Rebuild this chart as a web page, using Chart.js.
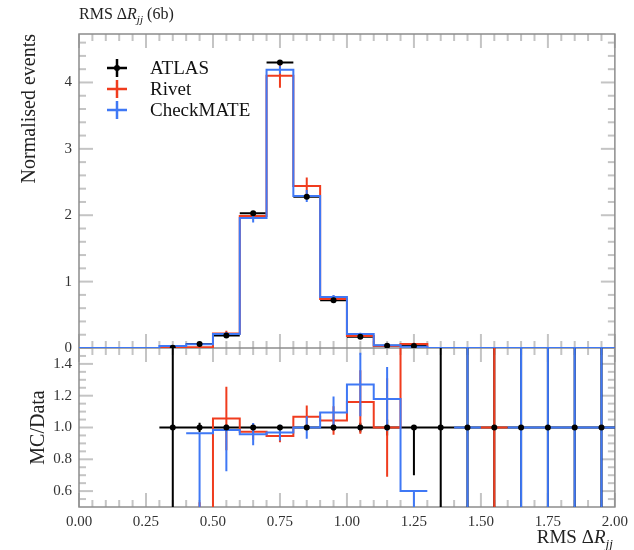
<!DOCTYPE html>
<html>
<head>
<meta charset="utf-8">
<script src="https://cdn.jsdelivr.net/npm/chart.js@4.4.1/dist/chart.umd.min.js"></script>
<style>
  html, body { margin: 0; padding: 0; background: #fff; }
</style>
</head>
<body>
<canvas id="chart" width="634" height="550"></canvas>
<script>
// histogram binning (RMS delta R_jj)
const binEdges = [0.0, 0.1, 0.2, 0.3, 0.4, 0.5, 0.6, 0.7, 0.8, 0.9, 1.0,
                  1.1, 1.2, 1.3, 1.4, 1.5, 1.6, 1.7, 1.8, 1.9, 2.0];

const seriesNames = ["ATLAS", "Rivet", "CheckMATE"];
const seriesColors = ["#000000", "#f03c1e", "#3f78f5"];

// upper panel: normalised events
const atlasVals = [null, null, null, 0.005, 0.06, 0.19, 2.03, 4.30, 2.28, 0.72, 0.17, 0.035, 0.03, 0, 0, 0, 0, 0, 0, 0];
const atlasErr  = [null, null, null, 0.005, 0.01, 0.01, 0.03, 0.04, 0.03, 0.02, 0.01, 0.005, 0.009, 0, 0, 0, 0, 0, 0, 0];
const rivetVals = [null, null, null, 0, 0.01, 0.22, 1.99, 4.10, 2.44, 0.74, 0.18, 0.03, 0.06, 0, 0, 0, 0, 0, 0, 0];
const rivetErr  = [null, null, null, 0, 0.005, 0.04, 0.05, 0.18, 0.13, 0.05, 0.03, 0.01, 0.02, 0, 0, 0, 0, 0, 0, 0];
const cmVals    = [0, 0, 0, 0.03, 0.055, 0.21, 1.96, 4.19, 2.29, 0.77, 0.21, 0.04, 0.02, 0, 0, 0, 0, 0, 0, 0];
const cmErr     = [0, 0, 0, 0.01, 0.01, 0.03, 0.07, 0.06, 0.09, 0.03, 0.02, 0.01, 0.01, 0, 0, 0, 0, 0, 0, 0];

// lower panel: MC / Data  (error is either symmetric or [down, up])
const dataRatio    = [null, null, null, 1, 1, 1, 1, 1, 1, 1, 1, 1, 1, 1, 1, 1, 1, 1, 1, 1];
const dataRatioErr = [null, null, null, 1, 0.03, 0.02, 0.01, 0.01, 0.01, 0.02, 0.03, 0.05, [0.3, 0], 1, 1, 1, 1, 1, 1, 1];
const rivetRatio    = [null, null, null, 0, 0.2, 1.057, 0.973, 0.947, 1.068, 1.044, 1.16, 1.0, 1.9, null, null, 1.0, null, null, null, null];
const rivetRatioErr = [null, null, null, 0, 0.33, 0.2, 0.05, 0.04, 0.07, 0.09, 0.2, 0.31, 0.3, null, null, 1, null, null, null, null];
const cmRatio    = [null, null, null, null, 0.964, 0.985, 0.958, 0.968, 1.0, 1.095, 1.27, 1.18, 0.6, null, 1.0, null, 1.0, 1.0, 1.0, 1.0];
const cmRatioErr = [null, null, null, null, [0.5, 0], [0.26, 0], 0.07, 0.05, 0.07, 0.1, 0.2, 0.2, [0.15, 0], null, 1, null, 1, 1, 1, 1];

const xTickLabels = ["0.00", "0.25", "0.50", "0.75", "1.00", "1.25", "1.50", "1.75", "2.00"];
const ratioTickLabels = ["0.6", "0.8", "1.0", "1.2", "1.4"];

const FONT = "'Liberation Serif', 'Times New Roman', serif";

const stepPoints = (vals) => {
  const pts = [];
  vals.forEach((v, i) => {
    if (v === null) { pts.push({ x: binEdges[i], y: null }); return; }
    pts.push({ x: binEdges[i], y: v }, { x: binEdges[i + 1], y: v });
  });
  return pts;
};

const errPoints = (vals, errs, withX) => {
  const pts = [];
  vals.forEach((v, i) => {
    if (v === null) return;
    const lo = binEdges[i], hi = binEdges[i + 1], c = (lo + hi) / 2;
    const e = errs[i];
    const dn = Array.isArray(e) ? e[0] : e, up = Array.isArray(e) ? e[1] : e;
    if (withX) pts.push({ x: lo, y: v }, { x: hi, y: v }, { x: c, y: null });
    if (dn + up > 0) pts.push({ x: c, y: v - dn }, { x: c, y: v + up }, { x: c, y: null });
  });
  return pts;
};

// markers at bin centres; empty bins get no marker when skipZero is set
const dotPoints = (vals, skipZero) => vals.map((v, i) => ({
  x: (binEdges[i] + binEdges[i + 1]) / 2,
  y: (skipZero && v === 0) ? null : v
}));

const lineSet = (data, color, axis, order) => ({
  data, yAxisID: axis, order,
  showLine: true, borderColor: color, backgroundColor: color,
  borderWidth: 2, pointRadius: 0, spanGaps: false,
  borderCapStyle: "butt", borderJoinStyle: "miter"
});

const datasets = [
  lineSet(errPoints(atlasVals, atlasErr, true), seriesColors[0], "y", 5),
  lineSet(stepPoints(rivetVals), seriesColors[1], "y", 4),
  lineSet(errPoints(rivetVals, rivetErr, false), seriesColors[1], "y", 4),
  lineSet(stepPoints(cmVals), seriesColors[2], "y", 3),
  lineSet(errPoints(cmVals, cmErr, false), seriesColors[2], "y", 3),
  { data: dotPoints(atlasVals, true), yAxisID: "y", order: 0, pointRadius: 3, pointBackgroundColor: "#000", pointBorderWidth: 0, showLine: false },

  lineSet(errPoints(dataRatio, dataRatioErr, true), seriesColors[0], "yr", 5),
  lineSet(stepPoints(rivetRatio), seriesColors[1], "yr", 4),
  lineSet(errPoints(rivetRatio, rivetRatioErr, false), seriesColors[1], "yr", 4),
  lineSet(stepPoints(cmRatio), seriesColors[2], "yr", 3),
  lineSet(errPoints(cmRatio, cmRatioErr, false), seriesColors[2], "yr", 3),
  { data: dotPoints(dataRatio, false), yAxisID: "yr", order: 0, pointRadius: 3, pointBackgroundColor: "#000", pointBorderWidth: 0, showLine: false }
];

// clip every dataset to its own panel
const panelClip = {
  id: "panelClip",
  beforeDatasetDraw(chart, args) {
    const ds = chart.data.datasets[args.index];
    const ax = chart.scales[ds.yAxisID];
    const ctx = chart.ctx;
    ctx.save();
    ctx.beginPath();
    ctx.rect(chart.chartArea.left, ax.top, chart.chartArea.right - chart.chartArea.left, ax.bottom - ax.top);
    ctx.clip();
  },
  afterDatasetDraw(chart) { chart.ctx.restore(); }
};

// frame + inner tick marks on all sides of both panels
const frameTicks = {
  id: "frameTicks",
  beforeDatasetsDraw(chart) {
    const { ctx, chartArea: a, scales } = chart;
    const x = scales.x, y = scales.y, yr = scales.yr;
    ctx.save();
    ctx.strokeStyle = "#c4c4c4";
    ctx.lineWidth = 2;
    const line = (x1, y1, x2, y2) => { ctx.beginPath(); ctx.moveTo(x1, y1); ctx.lineTo(x2, y2); ctx.stroke(); };
    for (let k = 0; k <= 40; k++) {
      const px = x.getPixelForValue(k * 0.05);
      const len = k % 5 === 0 ? 14 : 7;
      line(px, y.top, px, y.top + len);
      line(px, y.bottom, px, y.bottom - len);
      line(px, yr.top, px, yr.top + len);
      line(px, yr.bottom, px, yr.bottom - len);
    }
    for (let k = 0; k * 0.2 < y.max; k++) {
      const py = y.getPixelForValue(k * 0.2);
      const len = k % 5 === 0 ? 14 : 7;
      line(a.left, py, a.left + len, py);
      line(a.right, py, a.right - len, py);
    }
    for (let k = 1; k < 20; k++) {
      const py = yr.getPixelForValue(0.5 + k * 0.05);
      const len = k % 4 === 2 ? 14 : 7;
      line(a.left, py, a.left + len, py);
      line(a.right, py, a.right - len, py);
    }
    ctx.strokeStyle = "#8c8c8c";
    ctx.lineWidth = 1.5;
    ctx.strokeRect(a.left, a.top, a.right - a.left, a.bottom - a.top);
    line(a.left, y.bottom, a.right, y.bottom);
    ctx.restore();
  }
};

// text with italic R and subscript jj
const richText = (ctx, parts, x, yBase, size, alignRight) => {
  const fontOf = (p) => (p[1] ? "italic " : "") + (p[1] === "sub" ? size * 0.7 : size) + "px " + FONT;
  let total = 0;
  parts.forEach(p => { ctx.font = fontOf(p); total += ctx.measureText(p[0]).width; });
  let cx = alignRight ? x - total : x;
  ctx.textAlign = "left";
  ctx.textBaseline = "alphabetic";
  parts.forEach(p => {
    ctx.font = fontOf(p);
    ctx.fillText(p[0], cx, yBase + (p[1] === "sub" ? size * 0.28 : 0));
    cx += ctx.measureText(p[0]).width;
  });
};

const decorations = {
  id: "decorations",
  afterDraw(chart) {
    const { ctx, chartArea: a } = chart;
    ctx.save();
    ctx.fillStyle = "#222";
    richText(ctx, [["RMS Δ", ""], ["R", "i"], ["jj", "sub"], [" (6b)", ""]], a.left, 19, 16, false);
    richText(ctx, [["RMS Δ", ""], ["R", "i"], ["jj", "sub"]], a.right - 2, 543, 19, true);

    // legend
    seriesNames.forEach((name, i) => {
      const cx = 117, cy = 68 + i * 21;
      ctx.strokeStyle = seriesColors[i];
      ctx.lineWidth = 2.5;
      ctx.beginPath();
      ctx.moveTo(cx - 10, cy); ctx.lineTo(cx + 10, cy);
      ctx.moveTo(cx, cy - 9); ctx.lineTo(cx, cy + 9);
      ctx.stroke();
      if (i === 0) { ctx.fillStyle = "#000"; ctx.beginPath(); ctx.arc(cx, cy, 3, 0, Math.PI * 2); ctx.fill(); }
      ctx.fillStyle = "#111";
      ctx.font = "19px " + FONT;
      ctx.textBaseline = "middle";
      ctx.textAlign = "left";
      ctx.fillText(name, 150, cy + 1);
    });
    ctx.restore();
  }
};

const tickFont = { family: FONT, size: 15 };
const noGrid = { display: false, drawTicks: false };

new Chart(document.getElementById("chart"), {
  type: "scatter",
  data: { datasets },
  options: {
    responsive: false,
    animation: false,
    events: [],
    devicePixelRatio: 1,
    layout: { padding: { top: 34, right: 19, left: 0, bottom: 0 } },
    plugins: { legend: { display: false }, tooltip: { enabled: false } },
    scales: {
      x: {
        type: "linear", min: 0, max: 2,
        grid: noGrid, border: { display: false },
        ticks: {
          stepSize: 0.25, autoSkip: false, maxRotation: 0, padding: 6,
          font: tickFont, color: "#333",
          callback: (v) => xTickLabels.find(t => Math.abs(parseFloat(t) - v) < 1e-6) || ""
        },
        afterFit: (s) => { s.height = 43; }
      },
      yr: {
        type: "linear", position: "left", stack: "panels", stackWeight: 159,
        min: 0.5, max: 1.5,
        grid: noGrid, border: { display: false },
        ticks: {
          stepSize: 0.1, autoSkip: false, padding: 7, font: tickFont, color: "#333",
          callback: (v) => ratioTickLabels.find(t => Math.abs(parseFloat(t) - v) < 1e-6) || ""
        },
        title: { display: true, text: "MC/Data", align: "center", color: "#222",
                 font: { family: FONT, size: 20 }, padding: { top: 27, bottom: 0 } },
        afterFit: (s) => { s.width = 79; }
      },
      y: {
        type: "linear", position: "left", stack: "panels", stackWeight: 314,
        min: 0, max: 4.73,
        grid: noGrid, border: { display: false },
        ticks: { stepSize: 1, includeBounds: false, autoSkip: false, padding: 7, font: tickFont, color: "#333" },
        title: { display: true, text: "Normalised events", align: "end", color: "#222",
                 font: { family: FONT, size: 20 }, padding: { top: 18, bottom: 0 } },
        afterFit: (s) => { s.width = 79; }
      }
    }
  },
  plugins: [panelClip, frameTicks, decorations]
});
</script>
</body>
</html>
